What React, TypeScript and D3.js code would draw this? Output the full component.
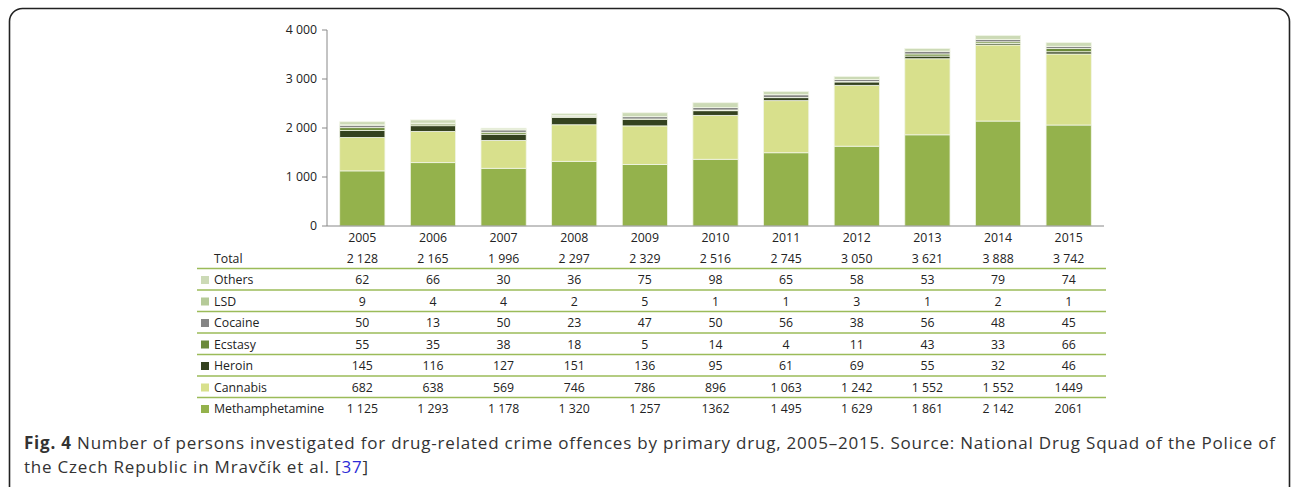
import React from "react";
import * as d3 from "d3";

const years = ["2005", "2006", "2007", "2008", "2009", "2010", "2011", "2012", "2013", "2014", "2015"];
const totals = [2128, 2165, 1996, 2297, 2329, 2516, 2745, 3050, 3621, 3888, 3742];
const methamphetamine = [1125, 1293, 1178, 1320, 1257, 1362, 1495, 1629, 1861, 2142, 2061];
const cannabis = [682, 638, 569, 746, 786, 896, 1063, 1242, 1552, 1552, 1449];
const heroin = [145, 116, 127, 151, 136, 95, 61, 69, 55, 32, 46];
const ecstasy = [55, 35, 38, 18, 5, 14, 4, 11, 43, 33, 66];
const cocaine = [50, 13, 50, 23, 47, 50, 56, 38, 56, 48, 45];
const lsd = [9, 4, 4, 2, 5, 1, 1, 3, 1, 2, 1];
const others = [62, 66, 30, 36, 75, 98, 65, 58, 53, 79, 74];
const yTicks = [0, 1000, 2000, 3000, 4000];
// cells printed without a thousands space in the original table
const unspacedCells = ["Methamphetamine|2010", "Cannabis|2015", "Methamphetamine|2015"];

const series = [
  { name: "Methamphetamine", values: methamphetamine, color: "#94b24c" },
  { name: "Cannabis", values: cannabis, color: "#d8e08c" },
  { name: "Heroin", values: heroin, color: "#34421f" },
  { name: "Ecstasy", values: ecstasy, color: "#6b8a3a" },
  { name: "Cocaine", values: cocaine, color: "#858585" },
  { name: "LSD", values: lsd, color: "#b5ca98" },
  { name: "Others", values: others, color: "#ccdab6" },
];

const fmt = (v: number) => {
  const s = String(v);
  return s.length > 3 ? s.slice(0, s.length - 3) + " " + s.slice(s.length - 3) : s;
};

const FONT = "'Open Sans', 'Noto Sans', sans-serif";

export default function App() {
  const x = d3.scaleBand<string>().domain(years).range([327, 1104]).paddingInner(0.36).paddingOuter(0.18);
  const y = d3.scaleLinear().domain([0, 4000]).range([226, 30]);
  const table = years.map((yr, i) => {
    const row: any = { year: yr };
    series.forEach((s) => (row[s.name] = s.values[i]));
    return row;
  });
  const stack = d3.stack<any>().keys(series.map((s) => s.name))(table);
  const rowOrder = [...series].reverse();
  const rowY = (k: number) => 280 + k * 21.5;
  const textColor = "#222";
  const fs = 12.3;

  return (
    <svg width={1293} height={487} style={{ position: "absolute", left: 0, top: 0, background: "#fff" }} fontFamily={FONT}>
      <rect x={9.5} y={8.5} width={1280} height={520} rx={13} fill="none" stroke="#222" strokeWidth={1.6} />
      {/* y axis */}
      <line x1={327} x2={327} y1={30} y2={226} stroke="#888" />
      {yTicks.map((t) => (
        <g key={t}>
          <line x1={322} x2={327} y1={y(t)} y2={y(t)} stroke="#888" />
          <text x={317} y={y(t)} dy="0.35em" textAnchor="end" fontSize={fs} fill={textColor}>{fmt(t)}</text>
        </g>
      ))}
      {/* bars */}
      {stack.map((layer, si) => (
        <g key={layer.key} fill={series[si].color}>
          {layer.map((d, i) => (
            <rect key={i} x={x(years[i])!} width={x.bandwidth()} y={y(d[1])} height={y(d[0]) - y(d[1])} stroke="#f1f5e6" strokeWidth={0.8} />
          ))}
        </g>
      ))}
      <line x1={327} x2={1104} y1={226} y2={226} stroke="#888" />
      {years.map((yr) => (
        <text key={yr} x={x(yr)! + x.bandwidth() / 2} y={238} dy="0.35em" textAnchor="middle" fontSize={fs} fill={textColor}>{yr}</text>
      ))}
      {/* table */}
      <text x={214} y={259} dy="0.35em" fontSize={fs} fill={textColor}>Total</text>
      {totals.map((t, i) => (
        <text key={i} x={x(years[i])! + x.bandwidth() / 2} y={259} dy="0.35em" textAnchor="middle" fontSize={fs} fill={textColor}>{fmt(t)}</text>
      ))}
      {rowOrder.map((s, k) => (
        <g key={s.name}>
          <line x1={197} x2={1106} y1={rowY(k) - 11.5} y2={rowY(k) - 11.5} stroke="#9bbb59" strokeWidth={1.3} />
          <rect x={201} y={rowY(k) - 4} width={8} height={8} fill={s.color} />
          <text x={214} y={rowY(k)} dy="0.35em" fontSize={fs} fill={textColor}>{s.name}</text>
          {s.values.map((v, i) => (
            <text key={i} x={x(years[i])! + x.bandwidth() / 2} y={rowY(k)} dy="0.35em" textAnchor="middle" fontSize={fs} fill={textColor}>
              {unspacedCells.includes(s.name + "|" + years[i]) ? String(v) : fmt(v)}
            </text>
          ))}
        </g>
      ))}
      {/* caption */}
      <text x={24} y={449} fontSize={17} fill="#333" letterSpacing={0.79}>
        <tspan fontWeight="bold">Fig. 4</tspan>
        <tspan> Number of persons investigated for drug-related crime offences by primary drug, 2005–2015. Source: National Drug Squad of the Police of</tspan>
      </text>
      <text x={24} y={473} fontSize={17} fill="#333" letterSpacing={0.79}>
        <tspan>the Czech Republic in Mravčík et al. [</tspan>
        <tspan fill="#2b2bd6">37</tspan>
        <tspan>]</tspan>
      </text>
    </svg>
  );
}
